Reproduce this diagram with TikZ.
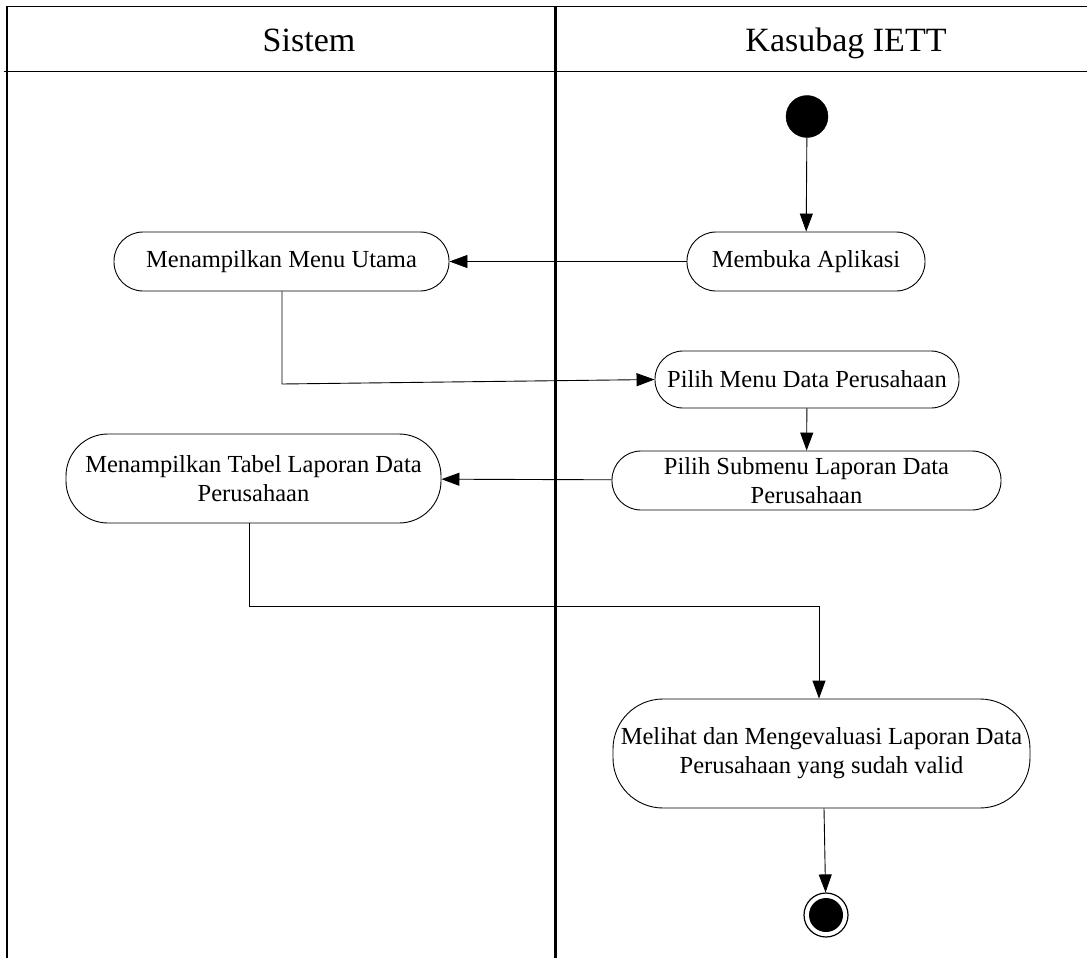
\documentclass[tikz,border=0pt]{standalone}
\usepackage{fontspec}
\setmainfont{Liberation Serif}
\usetikzlibrary{arrows.meta,calc}
\begin{document}
\begin{tikzpicture}[x=1pt,y=-1pt,
  lane/.style={line width=2pt},
  frame/.style={line width=1.6pt},
  head/.style={font=\fontsize{34}{40}\selectfont, anchor=base, inner sep=0pt},
  act/.style={draw, line width=0.9pt, align=center, inner sep=0pt,
    font=\fontsize{24.5}{29}\selectfont},
  flow/.style={line width=0.9pt, -{Triangle[length=18pt,width=13pt]}},
  link/.style={line width=0.9pt}
]
\useasboundingbox (0,0) rectangle (1087,958);

% swimlane frame
\coordinate (tl) at (7,6.5);
\coordinate (tr) at (1087,6.5);
\coordinate (bl) at (7,958);
\coordinate (hl) at (4,71.5);
\coordinate (hr) at (1087,71.5);
\coordinate (mt) at (555,6.5);
\coordinate (mb) at (555,958);
\draw[frame] (tr) -- (tl) -- (bl);
\draw[frame] (hl) -- (hr);
\draw[lane, line width=3pt] (mt) -- (mb);

\node[head] (hsys) at (309,52) {Sistem};
\node[head] (hkas) at (846,52) {Kasubag IETT};

% start and end
\node[circle, fill=black, draw=black, minimum size=42pt, inner sep=0pt] (start) at (807,116.5) {};
\node[circle, draw=black, line width=1.2pt, minimum size=44pt, inner sep=0pt] (end) at (826,915) {};
\node[circle, fill=black, minimum size=34pt, inner sep=0pt] (endin) at (826,915) {};

% activities
\node[act, minimum width=335pt, minimum height=59pt, rounded corners=29pt] (menu) at (281.5,261.5) {Menampilkan Menu Utama};
\node[act, minimum width=238pt, minimum height=59pt, rounded corners=29pt] (buka) at (806,261.5) {Membuka Aplikasi};
\node[act, minimum width=304pt, minimum height=57pt, rounded corners=28pt] (pilih) at (807,379.5) {Pilih Menu Data Perusahaan};
\node[act, minimum width=389pt, minimum height=59pt, rounded corners=29pt] (sub) at (806.5,480.5) {Pilih Submenu Laporan Data\\Perusahaan};
\node[act, minimum width=375pt, minimum height=89pt, rounded corners=42pt] (tabel) at (253.5,478.5) {Menampilkan Tabel Laporan Data\\Perusahaan};
\node[act, minimum width=417pt, minimum height=109pt, rounded corners=50pt] (lihat) at (821.5,753.5) {Melihat dan Mengevaluasi Laporan Data\\Perusahaan yang sudah valid};

% connectors
\coordinate (c1) at (282,384);
\coordinate (c2) at (249,606);
\coordinate (c3) at (819,606);

\draw[flow] (start) -- (buka);
\draw[flow] (buka) -- (menu);
\draw[flow] (menu.south -| c1) -- (c1) -- (pilih.west);
\draw[flow] (pilih) -- (sub);
\draw[flow] (sub) -- (tabel);
\draw[flow] (tabel.south -| c2) -- (c2) -- (c3) -- (c3 |- lihat.north);
\draw[flow] ($(lihat.south)+(2.5,0)$) -- (end);
\end{tikzpicture}
\end{document}
